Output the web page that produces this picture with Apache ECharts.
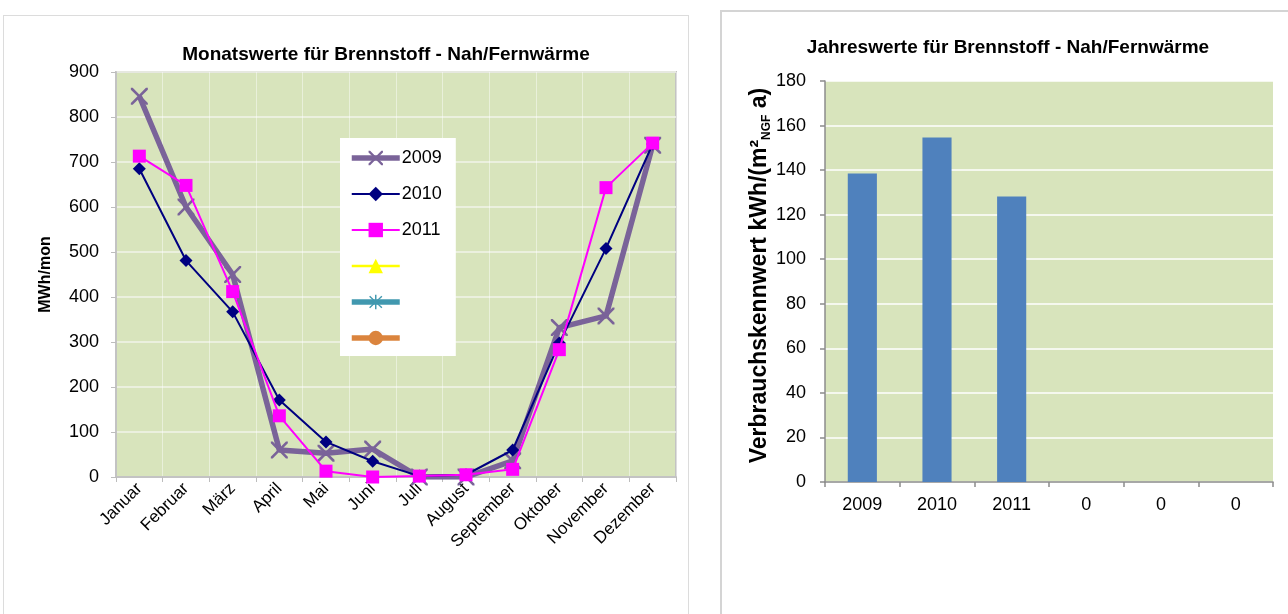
<!DOCTYPE html>
<html>
<head>
<meta charset="utf-8">
<script src="https://cdn.jsdelivr.net/npm/echarts@6/dist/echarts.min.js"></script>
<style>
  html, body { margin: 0; padding: 0; background: #fff; width: 1288px; height: 614px; overflow: hidden; }
  .box { position: absolute; background: #fff; box-sizing: border-box; }
  #monthly { left: 3px; top: 15px; width: 686px; height: 620px; border: 1px solid #dcdcdc; }
  #annual { left: 720px; top: 10px; width: 580px; height: 620px; border: 2px solid #d4d4d4; }
</style>
</head>
<body>
<div id="monthly" class="box"></div>
<div id="annual" class="box"></div>
<script>
// Monthly consumption, MWh per month
const months = ['Januar', 'Februar', 'März', 'April', 'Mai', 'Juni', 'Juli', 'August', 'September', 'Oktober', 'November', 'Dezember'];
const values2009 = [846, 600, 450, 60, 53, 62, 0, 0, 36, 332, 358, 737];
const values2010 = [685, 481, 367, 171, 78, 35, 2, 5, 60, 298, 508, 740];
const values2011 = [713, 648, 412, 136, 13, 0, 2, 5, 17, 283, 643, 742];
const monthTicks = [0, 100, 200, 300, 400, 500, 600, 700, 800, 900];

// Annual characteristic values, kWh/(m² NGF a)
const years = ['2009', '2010', '2011', '0', '0', '0'];
const annualValues = [138.5, 154.6, 128.1, 0, 0, 0];
const annualTicks = [0, 20, 40, 60, 80, 100, 120, 140, 160, 180];

const FONT = '"Liberation Sans", Arial, sans-serif';
const PLOT_BG = '#d8e4bc';
const AXIS_GRAY = '#8c8c8c';

// X-shaped marker used for the 2009 series
const crossPath = 'path://M0,0 L2.2,0 L10,7.8 L17.8,0 L20,0 L20,2.2 L12.2,10 L20,17.8 L20,20 L17.8,20 L10,12.2 L2.2,20 L0,20 L0,17.8 L7.8,10 L0,2.2 Z';
// Asterisk marker
const starPath = 'path://M9,0 L11,0 L11,8 L17.8,1.2 L19.2,2.6 L12.4,9 L20,9 L20,11 L12.4,11 L19.2,17.4 L17.8,18.8 L11,12 L11,20 L9,20 L9,12 L2.2,18.8 L0.8,17.4 L7.6,11 L0,11 L0,9 L7.6,9 L0.8,2.6 L2.2,1.2 L9,8 Z';

// Unnamed series keep a blank label so every legend row has the same height
const legendNames = { '2009': '2009', '2010': '2010', '2011': '2011', 'r4': ' ', 'r5': ' ', 'r6': ' ' };

const monthly = echarts.init(document.getElementById('monthly'), null, { renderer: 'canvas' });
monthly.setOption({
  animation: false,
  textStyle: { fontFamily: FONT },
  title: {
    text: 'Monatswerte für Brennstoff - Nah/Fernwärme',
    left: 377, top: 24, textAlign: 'center',
    textStyle: { fontFamily: FONT, fontSize: 19, fontWeight: 'bold', color: '#000' }
  },
  legend: {
    orient: 'vertical',
    left: 336, top: 122,
    backgroundColor: '#ffffff',
    padding: [11, 14, 9, 9],
    itemWidth: 48, itemHeight: 18, itemGap: 18,
    selectedMode: false,
    data: [
      { name: '2009', lineStyle: { width: 5.5 } },
      { name: '2010', lineStyle: { width: 2 } },
      { name: '2011', lineStyle: { width: 2 } },
      { name: 'r4', lineStyle: { width: 2.5 } },
      { name: 'r5', lineStyle: { width: 5.5 } },
      { name: 'r6', lineStyle: { width: 5.5 } }
    ],
    formatter: function (n) { return legendNames[n]; },
    textStyle: { fontFamily: FONT, fontSize: 18, color: '#000', lineHeight: 18, padding: [0, 0, 0, -3] }
  },
  grid: {
    left: 112, top: 56, width: 560, height: 405,
    show: true, backgroundColor: PLOT_BG, borderColor: '#c3c3c3', borderWidth: 2
  },
  xAxis: {
    type: 'category',
    data: months,
    boundaryGap: true,
    axisLine: { show: true, lineStyle: { color: '#c3c3c3', width: 2 } },
    axisTick: { show: true, length: 5, lineStyle: { color: '#bdbdbd' } },
    axisLabel: { rotate: 45, fontSize: 17, color: '#000', margin: 9, fontFamily: FONT },
    splitLine: { show: true, lineStyle: { color: 'rgba(255,255,255,0.45)', width: 1 } }
  },
  yAxis: {
    type: 'value',
    min: monthTicks[0], max: monthTicks[monthTicks.length - 1], interval: 100,
    name: 'MWh/mon', nameLocation: 'middle', nameGap: 62, nameRotate: 90,
    nameTextStyle: { fontFamily: FONT, fontSize: 16, fontWeight: 'bold', color: '#000' },
    axisLine: { show: true, lineStyle: { color: '#c3c3c3', width: 2 } },
    axisTick: { show: true, length: 5, lineStyle: { color: '#bdbdbd' } },
    axisLabel: { fontSize: 18, color: '#000', margin: 17, fontFamily: FONT },
    splitLine: { show: true, lineStyle: { color: '#f2f5ea', width: 1.5 } }
  },
  series: [
    {
      name: '2009', type: 'line', data: values2009,
      symbol: crossPath, symbolSize: 17,
      lineStyle: { color: '#7a6399', width: 5.5 },
      itemStyle: { color: '#7a6399' }, z: 2
    },
    {
      name: '2010', type: 'line', data: values2010,
      symbol: 'diamond', symbolSize: 13,
      lineStyle: { color: '#000080', width: 2 },
      itemStyle: { color: '#000080' }, z: 3
    },
    {
      name: '2011', type: 'line', data: values2011,
      symbol: 'rect', symbolSize: 13,
      lineStyle: { color: '#ff00ff', width: 2 },
      itemStyle: { color: '#ff00ff' }, z: 4
    },
    {
      name: 'r4', type: 'line', data: [],
      symbol: 'triangle', symbolSize: 12,
      lineStyle: { color: '#ffff00', width: 2 },
      itemStyle: { color: '#ffff00' }
    },
    {
      name: 'r5', type: 'line', data: [],
      symbol: starPath, symbolSize: 12,
      lineStyle: { color: '#4198af', width: 5 },
      itemStyle: { color: '#4198af' }
    },
    {
      name: 'r6', type: 'line', data: [],
      symbol: 'circle', symbolSize: 12,
      lineStyle: { color: '#db843d', width: 5 },
      itemStyle: { color: '#db843d' }
    }
  ]
});

const annual = echarts.init(document.getElementById('annual'), null, { renderer: 'canvas' });
annual.setOption({
  animation: false,
  textStyle: { fontFamily: FONT },
  title: {
    text: 'Jahreswerte für Brennstoff - Nah/Fernwärme',
    left: 281, top: 21, textAlign: 'center',
    textStyle: { fontFamily: FONT, fontSize: 19, fontWeight: 'bold', color: '#000' }
  },
  grid: {
    left: 103, top: 69, width: 448, height: 401,
    show: true, backgroundColor: PLOT_BG, borderWidth: 0
  },
  xAxis: {
    type: 'category',
    data: years,
    boundaryGap: true,
    axisLine: { show: true, lineStyle: { color: AXIS_GRAY, width: 1.5 } },
    axisTick: { show: true, length: 5, lineStyle: { color: AXIS_GRAY, width: 1.5 } },
    axisLabel: { fontSize: 18, color: '#000', margin: 14, fontFamily: FONT },
    splitLine: { show: false }
  },
  yAxis: {
    type: 'value',
    min: annualTicks[0], max: annualTicks[annualTicks.length - 1], interval: 20,
    name: '{t|Verbrauchskennwert kWh/(m²}{s|NGF}{t| a)}',
    nameLocation: 'middle', nameGap: 52, nameRotate: 90,
    nameMoveOverlap: false,
    nameTextStyle: {
      color: '#000',
      padding: [0, 0, 0, 12],
      rich: {
        t: { fontFamily: FONT, fontSize: 23, fontWeight: 'bold', color: '#000', lineHeight: 27 },
        s: { fontFamily: FONT, fontSize: 12, fontWeight: 'bold', color: '#000', verticalAlign: 'bottom', lineHeight: 27 }
      }
    },
    axisLine: { show: true, lineStyle: { color: AXIS_GRAY, width: 1.5 } },
    axisTick: { show: true, length: 5, lineStyle: { color: AXIS_GRAY, width: 1.5 } },
    axisLabel: { fontSize: 18, color: '#000', margin: 19, fontFamily: FONT },
    splitLine: { show: true, lineStyle: { color: '#ffffff', width: 1.5 } }
  },
  series: [
    {
      type: 'bar', data: annualValues, barWidth: '39%',
      itemStyle: { color: '#4f81bd' }
    }
  ]
});
</script>
</body>
</html>
